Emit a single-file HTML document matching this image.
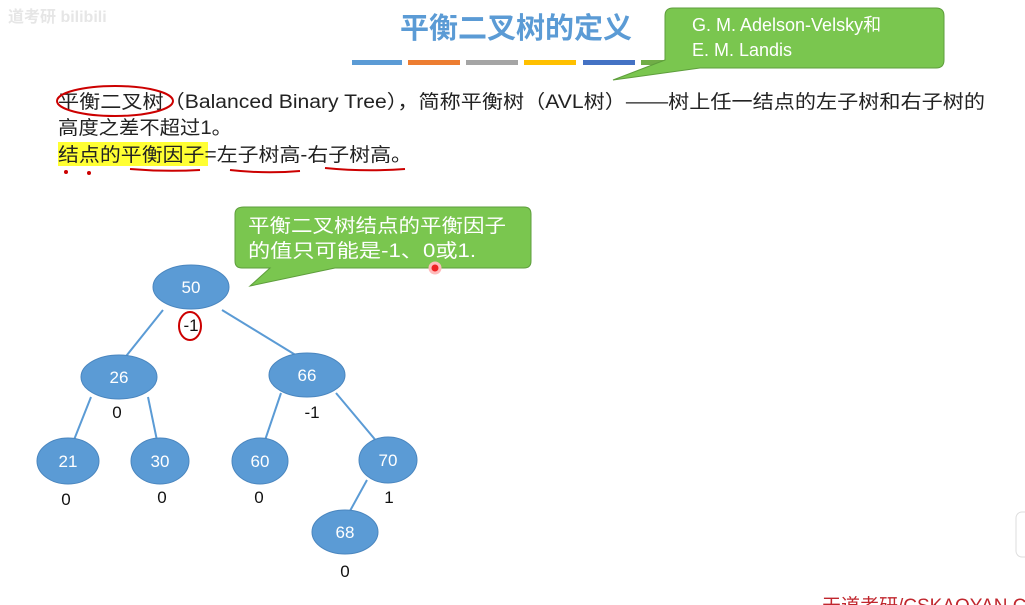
<!DOCTYPE html>
<html><head><meta charset="utf-8"><style>
body{margin:0;background:#fff;}
svg{display:block;}
text{font-family:"Liberation Sans","Noto Sans CJK SC",sans-serif;}
</style></head><body>
<svg width="1025" height="605" viewBox="0 0 1025 605" xmlns="http://www.w3.org/2000/svg">
<rect width="1025" height="605" fill="#fff"/>
<text x="8" y="22" font-size="16" fill="#e6e6e6" font-weight="bold">道考研 bilibili</text>
<text x="400" y="38" font-size="29" fill="#5b9bd5" font-weight="bold">平衡二叉树的定义</text>
<rect x="352" y="60" width="50" height="5" fill="#5b9bd5"/>
<rect x="408" y="60" width="52" height="5" fill="#ed7d31"/>
<rect x="466" y="60" width="52" height="5" fill="#a5a5a5"/>
<rect x="524" y="60" width="52" height="5" fill="#ffc000"/>
<rect x="583" y="60" width="52" height="5" fill="#4472c4"/>
<rect x="641" y="60" width="40" height="5" fill="#70ad47"/>
<path d="M690,8 H936 Q944,8 944,16 V60 Q944,68 936,68 H700 L613,80 L665,60 V16 Q665,8 673,8 Z" fill="#7ac64f" stroke="#5e9e3c" stroke-width="1"/>
<text x="692" y="31" font-size="18" fill="#fff">G. M. Adelson-Velsky和</text>
<text x="692" y="56" font-size="18" fill="#fff">E. M. Landis</text>
<text x="58" y="108" font-size="19" fill="#222" textLength="927" lengthAdjust="spacingAndGlyphs">平衡二叉树（Balanced Binary Tree），简称平衡树（AVL树）——树上任一结点的左子树和右子树的</text>
<text x="58" y="134" font-size="19" fill="#222" textLength="174" lengthAdjust="spacingAndGlyphs">高度之差不超过1。</text>
<rect x="58" y="142" width="150" height="24" fill="#ffff33"/>
<text x="58" y="161" font-size="19" fill="#222" textLength="354" lengthAdjust="spacingAndGlyphs">结点的平衡因子=左子树高-右子树高。</text>
<ellipse cx="115" cy="101" rx="58" ry="15" fill="none" stroke="#c00" stroke-width="2"/>
<path d="M130,169 q35,3 70,1 M230,170 q35,4 70,1 M325,168 q40,4 80,1" fill="none" stroke="#c00" stroke-width="2"/>
<circle cx="66" cy="172" r="2" fill="#c00"/><circle cx="89" cy="173" r="2" fill="#c00"/>
<path d="M244,207 H524 Q531,207 531,214 V261 Q531,268 524,268 H335 L250,286 L270,268 H242 Q235,268 235,261 V214 Q235,207 244,207 Z" fill="#7ac64f" stroke="#5e9e3c"/>
<text x="248" y="232" font-size="19" fill="#fff" textLength="258" lengthAdjust="spacingAndGlyphs">平衡二叉树结点的平衡因子</text>
<text x="248" y="257" font-size="19" fill="#fff" textLength="228" lengthAdjust="spacingAndGlyphs">的值只可能是-1、0或1.</text>
<circle cx="435" cy="268" r="5" fill="#e22" stroke="#fbb" stroke-width="3"/>
<g stroke="#5b9bd5" stroke-width="2">
<line x1="163" y1="310" x2="119" y2="365"/><line x1="222" y1="310" x2="307" y2="362"/>
<line x1="91" y1="397" x2="68" y2="455"/><line x1="148" y1="397" x2="160" y2="455"/>
<line x1="281" y1="393" x2="260" y2="455"/><line x1="336" y1="393" x2="388" y2="455"/>
<line x1="367" y1="480" x2="345" y2="520"/>
</g>
<g fill="#5b9bd5" stroke="#4a86bf" stroke-width="1">
<ellipse cx="191" cy="287" rx="38" ry="22"/>
<ellipse cx="119" cy="377" rx="38" ry="22"/>
<ellipse cx="307" cy="375" rx="38" ry="22"/>
<ellipse cx="68" cy="461" rx="31" ry="23"/>
<ellipse cx="160" cy="461" rx="29" ry="23"/>
<ellipse cx="260" cy="461" rx="28" ry="23"/>
<ellipse cx="388" cy="460" rx="29" ry="23"/>
<ellipse cx="345" cy="532" rx="33" ry="22"/>
</g>
<g font-size="17" fill="#fff" text-anchor="middle">
<text x="191" y="293">50</text><text x="119" y="383">26</text><text x="307" y="381">66</text>
<text x="68" y="467">21</text><text x="160" y="467">30</text><text x="260" y="467">60</text>
<text x="388" y="466">70</text><text x="345" y="538">68</text>
</g>
<g font-size="17" fill="#111" text-anchor="middle">
<text x="191" y="331">-1</text><text x="117" y="418">0</text><text x="312" y="418">-1</text>
<text x="66" y="505">0</text><text x="162" y="503">0</text><text x="259" y="503">0</text>
<text x="389" y="503">1</text><text x="345" y="577">0</text>
</g>
<ellipse cx="190" cy="326" rx="11" ry="14" fill="none" stroke="#c00" stroke-width="2"/>
<rect x="1016" y="512" width="20" height="45" rx="6" fill="#fff" stroke="#ddd"/>
<text x="822" y="612" font-size="19" fill="#c0262d">天道考研/CSKAOYAN.C</text>
</svg>
</body></html>
